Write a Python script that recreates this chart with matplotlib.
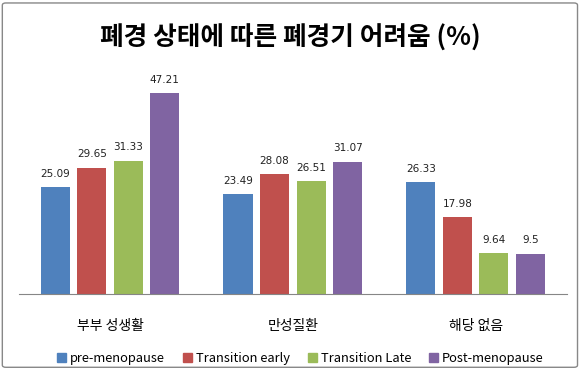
import numpy as np
import matplotlib
matplotlib.use("Agg")
import matplotlib.pyplot as plt
from matplotlib.patches import Patch, FancyBboxPatch

plt.rcParams["font.family"] = ["Noto Sans CJK KR", "DejaVu Sans"]

categories = ["부부 성생활", "만성질환", "해당 없음"]
series = ["pre-menopause", "Transition early", "Transition Late", "Post-menopause"]
pre_meno = [25.09, 23.49, 26.33]
trans_early = [29.65, 28.08, 17.98]
trans_late = [31.33, 26.51, 9.64]
post_meno = [47.21, 31.07, 9.5]
colors = ["#4F81BD", "#C0504D", "#9BBB59", "#8064A2"]

values = [pre_meno, trans_early, trans_late, post_meno]

fig = plt.figure(figsize=(5.81, 3.71), dpi=100)
ax = fig.add_axes([0.032, 0.2075, 0.944, 0.5741])

x = np.arange(len(categories))
step, width = 0.2, 0.159
for i, (vals, col) in enumerate(zip(values, colors)):
    bars = ax.bar(x + (i - 1.5) * step, vals, width, color=col, label=series[i])
    ax.bar_label(bars, labels=[f"{v:g}" for v in vals], padding=6,
                 fontsize=7.5, color="#222222", family="DejaVu Sans")

ax.set_xlim(-0.5, 2.5)
ax.set_ylim(0, 50)
ax.set_yticks([])
ax.set_xticks(x)
ax.set_xticklabels(categories, fontsize=10)
ax.tick_params(axis="x", length=0, pad=18)
for s in ["top", "left", "right"]:
    ax.spines[s].set_visible(False)
ax.spines["bottom"].set_color("#868686")

fig.text(0.5, 0.897, "폐경 상태에 따른 폐경기 어려움 (%)", ha="center", va="center",
         fontsize=18.5, fontweight="bold")

handles = [Patch(color=c) for c in colors]
fig.legend(handles, series, loc="center", bbox_to_anchor=(0.517, 0.033), ncol=4,
           frameon=False, fontsize=9.3, handlelength=0.7, handleheight=0.7,
           handletextpad=0.3, columnspacing=1.4)

border = FancyBboxPatch((0.004, 0.01), 0.99, 0.982, boxstyle="round,pad=0,rounding_size=0.006",
                        transform=fig.transFigure, fill=False, edgecolor="#888888", lw=1.0)
fig.patches.append(border)

fig.savefig("out.png", dpi=100)
